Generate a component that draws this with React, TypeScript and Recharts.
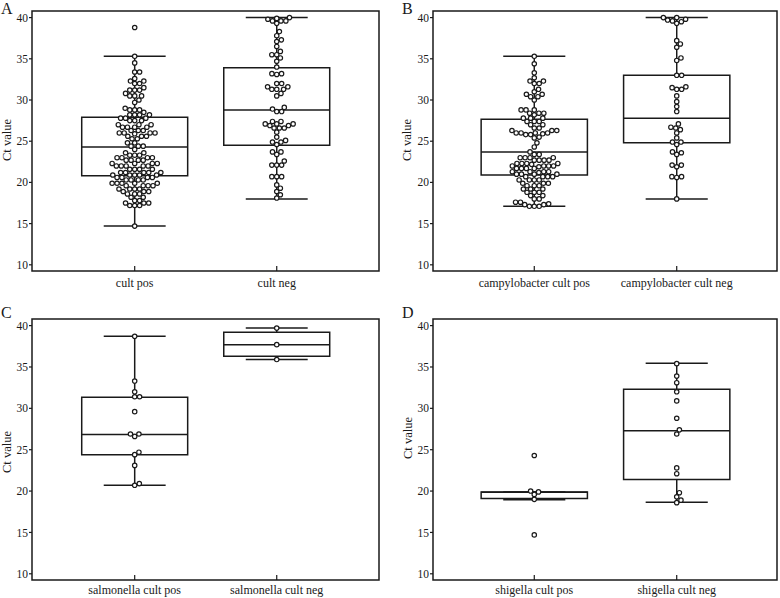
import React from 'react';
import {
  ScatterChart,
  Scatter,
  XAxis,
  YAxis,
  ReferenceArea,
  ReferenceLine,
} from 'recharts';

// tick labels
const yTicks = [10, 15, 20, 25, 30, 35, 40];
const labelsA = ['cult pos', 'cult neg'];
const labelsB = ['campylobacter cult pos', 'campylobacter cult neg'];
const labelsC = ['salmonella cult pos', 'salmonella cult neg'];
const labelsD = ['shigella cult pos', 'shigella cult neg'];

// Ct values per group
const aPos = [
  38.8, 35.3, 34.5, 33.4, 33.4, 32.6, 32.3, 32.3, 32.0, 32.0, 31.5, 31.2, 31.2, 31.2, 30.8, 30.5,
  30.5, 30.5, 30.0, 29.7, 29.0, 28.8, 28.8, 28.8, 28.5, 28.2, 28.2, 28.2, 28.2, 27.8, 27.8, 27.8,
  27.5, 27.5, 27.5, 27.0, 27.0, 27.0, 26.7, 26.7, 26.7, 26.7, 26.3, 26.3, 26.3, 26.0, 26.0, 26.0,
  25.9, 26.0, 25.6, 25.6, 25.6, 25.3, 25.3, 24.8, 24.8, 24.4, 24.4, 24.4, 24.0, 23.6, 23.6, 23.3,
  23.3, 23.3, 23.0, 23.0, 23.0, 23.0, 22.7, 22.7, 22.7, 22.7, 22.3, 22.3, 22.3, 22.3, 22.0, 22.0,
  22.0, 22.0, 22.0, 21.6, 21.6, 21.6, 21.6, 21.2, 21.2, 21.2, 21.2, 21.2, 20.9, 20.9, 20.9, 20.9,
  20.9, 20.6, 20.6, 20.6, 20.6, 20.3, 20.3, 20.3, 20.3, 19.9, 19.9, 19.9, 19.9, 19.9, 19.6, 19.6,
  19.6, 19.6, 19.2, 19.2, 19.2, 19.2, 18.9, 18.9, 18.9, 18.6, 18.6, 18.6, 18.2, 18.2, 17.8, 17.8,
  17.5, 17.5, 17.5, 17.2, 17.2, 17.2, 14.7,
];
const aNeg = [
  40.0, 39.9, 39.8, 39.6, 39.6, 39.6, 39.3, 38.3, 37.8, 37.3, 37.1, 36.5, 35.9, 35.5, 35.5, 35.1,
  34.7, 34.0, 33.2, 33.2, 33.1, 32.0, 32.0, 31.6, 31.6, 31.3, 31.3, 31.3, 30.8, 30.5, 29.1, 28.9,
  28.6, 28.6, 27.4, 27.4, 27.1, 27.1, 27.1, 26.9, 26.9, 26.6, 26.6, 26.6, 26.1, 25.5, 25.1, 24.9,
  24.9, 24.6, 23.7, 23.7, 23.4, 22.6, 22.1, 22.1, 22.1, 20.7, 20.7, 20.7, 19.7, 19.3, 18.9, 18.5,
  18.1,
];
const bPos = [
  35.3, 34.4, 33.3, 32.7, 32.3, 32.3, 32.0, 32.0, 31.3, 31.0, 30.7, 30.7, 30.4, 30.4, 30.0, 28.8,
  28.8, 28.8, 28.4, 28.4, 28.4, 28.2, 27.8, 27.8, 27.8, 27.4, 27.4, 27.4, 27.0, 27.0, 26.6, 26.6,
  26.3, 26.3, 26.3, 26.0, 26.0, 26.0, 25.9, 26.0, 25.8, 25.8, 25.5, 25.4, 24.8, 24.3, 23.7, 23.4,
  23.4, 23.0, 23.0, 23.0, 23.0, 22.7, 22.7, 22.7, 22.7, 22.3, 22.3, 22.3, 22.3, 22.2, 22.0, 22.0,
  22.0, 22.0, 21.9, 21.7, 21.7, 21.7, 21.7, 21.3, 21.3, 21.3, 21.3, 21.2, 21.0, 21.0, 21.0, 21.0,
  20.7, 20.7, 20.7, 20.7, 20.3, 20.3, 20.3, 20.3, 19.9, 19.9, 19.9, 19.6, 19.6, 19.6, 19.2, 19.2,
  19.2, 18.8, 18.8, 18.8, 18.4, 18.4, 18.0, 18.0, 17.6, 17.6, 17.4, 17.3, 17.3, 17.1, 17.1, 17.1,
];
const bNeg = [
  40.0, 40.0, 39.8, 39.7, 39.6, 39.5, 39.3, 37.2, 36.8, 36.4, 35.1, 34.8, 33.0, 33.0, 31.6, 31.5,
  31.3, 31.3, 30.5, 29.8, 29.2, 28.6, 27.1, 26.7, 26.6, 26.4, 26.0, 25.4, 24.9, 24.9, 24.6, 23.7,
  23.6, 23.4, 22.1, 22.1, 21.9, 20.7, 20.7, 20.6, 18.0,
];
const cPos = [38.7, 33.3, 32.0, 31.4, 31.4, 29.6, 26.9, 26.9, 26.6, 24.7, 24.4, 23.1, 20.9, 20.7];
const cNeg = [39.7, 37.7, 35.9];
const dPos = [24.3, 20.0, 19.9, 19.6, 19.0, 14.7];
const dNeg = [35.4, 33.9, 33.1, 32.0, 30.9, 28.8, 27.4, 26.9, 22.8, 22.1, 19.8, 19.3, 18.9, 18.6];

// box stats: [whisker low, q1, median, q3, whisker high]
const boxA = [
  [14.7, 20.8, 24.3, 27.9, 35.3],
  [18.0, 24.5, 28.8, 33.9, 40.0],
];
const boxB = [
  [17.1, 20.9, 23.7, 27.65, 35.3],
  [18.0, 24.8, 27.8, 33.0, 40.0],
];
const boxC = [
  [20.7, 24.4, 26.85, 31.35, 38.7],
  [35.9, 36.3, 37.7, 39.2, 39.7],
];
const boxD = [
  [18.96, 19.1, 19.85, 19.9, 19.9],
  [18.65, 21.4, 27.3, 32.3, 35.45],
];

const FONT = '"Liberation Serif", "Times New Roman", serif';
const INK = '#1a1a1a';
const Y_DOMAIN: [number, number] = [9.25, 40.8];
const PX_PER_Y = 8.24;
const PX_PER_X = 142;
const DOT = 4.9;
const BOX_HALF = 0.373;
const CAP_HALF = 0.218;

// simple beeswarm: place each value at the smallest horizontal offset that doesn't overlap
function swarm(values: number[], idx: number) {
  const sorted = [...values].sort((a, b) => a - b);
  const placed: { x: number; y: number }[] = [];
  return sorted.map((v) => {
    const y = v * PX_PER_Y;
    const cands = [0];
    for (const q of placed) {
      const dy = y - q.y;
      if (Math.abs(dy) < DOT) {
        const dx = Math.sqrt(DOT * DOT - dy * dy);
        cands.push(q.x + dx, q.x - dx);
      }
    }
    cands.sort((a, b) => Math.abs(a) - Math.abs(b));
    let best = 0;
    for (const c of cands) {
      if (placed.every((q) => (q.x - c) ** 2 + (q.y - y) ** 2 >= DOT * DOT - 0.01)) {
        best = c;
        break;
      }
    }
    placed.push({ x: best, y });
    return { x: idx + best / PX_PER_X, y: v };
  });
}

const Dot = (props: any) => (
  <circle cx={props.cx} cy={props.cy} r={2.2} fill="#fff" stroke={INK} strokeWidth={1.2} />
);

interface PanelProps {
  letter: string;
  labels: string[];
  pos: number[];
  neg: number[];
  boxes: number[][];
  left: number;
  top: number;
  height: number;
  margin: { top: number; right: number; bottom: number; left: number };
  xDomain: [number, number];
  xAxisHeight: number;
  labelDy: number;
  letterPos: [number, number];
  yLabelPos: [number, number];
}

function Panel(p: PanelProps) {
  const points = [...swarm(p.pos, 0), ...swarm(p.neg, 1)];
  const XTick = ({ x, y, payload }: any) => (
    <g>
      <line x1={x} x2={x} y1={y - 5} y2={y} stroke={INK} strokeWidth={1.2} />
      <text x={x} y={y + p.labelDy} textAnchor="middle" fontSize={12} fontFamily={FONT} fill={INK}>
        {p.labels[payload.value]}
      </text>
    </g>
  );
  const line = { stroke: INK, strokeWidth: 1.5, ifOverflow: 'visible' as const };

  return (
    <div style={{ position: 'absolute', left: p.left, top: p.top, width: 390, height: p.height }}>
      <ScatterChart width={390} height={p.height} margin={p.margin}>
        <XAxis
          dataKey="x"
          type="number"
          domain={p.xDomain}
          ticks={[0, 1]}
          allowDataOverflow
          axisLine={false}
          tickLine={false}
          tickSize={0}
          tickMargin={0}
          height={p.xAxisHeight}
          tick={<XTick />}
        />
        <YAxis
          dataKey="y"
          type="number"
          domain={Y_DOMAIN}
          ticks={yTicks}
          allowDataOverflow
          width={30}
          axisLine={false}
          tickSize={3}
          tickMargin={1}
          tickLine={{ stroke: INK, strokeWidth: 1.2 }}
          tick={{ fontSize: 11.5, fontFamily: FONT, fill: INK }}
        />
        <ReferenceArea
          x1={p.xDomain[0]}
          x2={p.xDomain[1]}
          y1={Y_DOMAIN[0]}
          y2={Y_DOMAIN[1]}
          fill="none"
          fillOpacity={0}
          stroke={INK}
          strokeWidth={1.5}
          ifOverflow="visible"
        />
        {p.boxes.map((b, i) => (
          <ReferenceArea
            key={`box-${i}`}
            x1={i - BOX_HALF}
            x2={i + BOX_HALF}
            y1={b[1]}
            y2={b[3]}
            fill="none"
            fillOpacity={0}
            stroke={INK}
            strokeWidth={1.5}
            ifOverflow="visible"
          />
        ))}
        {p.boxes.map((b, i) => (
          <ReferenceLine key={`med-${i}`} segment={[{ x: i - BOX_HALF, y: b[2] }, { x: i + BOX_HALF, y: b[2] }]} {...line} />
        ))}
        {p.boxes.map((b, i) => (
          <ReferenceLine key={`wl-${i}`} segment={[{ x: i, y: b[0] }, { x: i, y: b[1] }]} {...line} />
        ))}
        {p.boxes.map((b, i) => (
          <ReferenceLine key={`wh-${i}`} segment={[{ x: i, y: b[3] }, { x: i, y: b[4] }]} {...line} />
        ))}
        {p.boxes.map((b, i) => (
          <ReferenceLine key={`cl-${i}`} segment={[{ x: i - CAP_HALF, y: b[0] }, { x: i + CAP_HALF, y: b[0] }]} {...line} />
        ))}
        {p.boxes.map((b, i) => (
          <ReferenceLine key={`ch-${i}`} segment={[{ x: i - CAP_HALF, y: b[4] }, { x: i + CAP_HALF, y: b[4] }]} {...line} />
        ))}
        <Scatter data={points} shape={<Dot />} isAnimationActive={false} />
      </ScatterChart>
      <svg
        width={390}
        height={p.height}
        style={{ position: 'absolute', left: 0, top: 0, pointerEvents: 'none' }}
      >
        <text x={p.letterPos[0]} y={p.letterPos[1]} fontSize={16} fontFamily={FONT} fill={INK}>
          {p.letter}
        </text>
        <text
          transform={`translate(${p.yLabelPos[0]},${p.yLabelPos[1]}) rotate(-90)`}
          textAnchor="middle"
          fontSize={12.5}
          fontFamily={FONT}
          fill={INK}
        >
          Ct value
        </text>
      </svg>
    </div>
  );
}

export default function App() {
  return (
    <div style={{ position: 'absolute', left: 0, top: 0, width: 780, height: 598, background: '#fff' }}>
      <Panel
        letter="A" labels={labelsA} pos={aPos} neg={aNeg} boxes={boxA}
        left={0} top={0} height={295}
        margin={{ top: 11, right: 11, bottom: 4, left: 2 }}
        xDomain={[-0.723, 1.72]} xAxisHeight={20} labelDy={16}
        letterPos={[1, 14]} yLabelPos={[11, 140]}
      />
      <Panel
        letter="B" labels={labelsB} pos={bPos} neg={bNeg} boxes={boxB}
        left={390} top={0} height={295}
        margin={{ top: 11, right: 3, bottom: 4, left: 13 }}
        xDomain={[-0.711, 1.704]} xAxisHeight={20} labelDy={16}
        letterPos={[12, 14]} yLabelPos={[21, 140]}
      />
      <Panel
        letter="C" labels={labelsC} pos={cPos} neg={cNeg} boxes={boxC}
        left={0} top={295} height={303}
        margin={{ top: 24, right: 11, bottom: 2, left: 2 }}
        xDomain={[-0.723, 1.72]} xAxisHeight={16} labelDy={14}
        letterPos={[1, 23]} yLabelPos={[11, 157]}
      />
      <Panel
        letter="D" labels={labelsD} pos={dPos} neg={dNeg} boxes={boxD}
        left={390} top={295} height={303}
        margin={{ top: 24, right: 3, bottom: 2, left: 13 }}
        xDomain={[-0.711, 1.704]} xAxisHeight={16} labelDy={14}
        letterPos={[12, 23]} yLabelPos={[22, 143]}
      />
    </div>
  );
}
